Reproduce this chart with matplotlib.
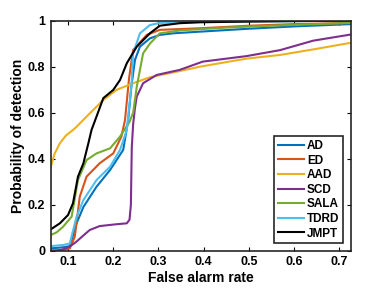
import matplotlib
matplotlib.use("Agg")
from matplotlib import pyplot as plt

# ROC curves (false alarm rate, probability of detection)
ad_x = [0.062, 0.09, 0.104, 0.119, 0.134, 0.163, 0.193, 0.222, 0.233, 0.24, 0.248, 0.259, 0.281, 0.303, 0.333, 0.39, 0.5, 0.6, 0.726]
ad_y = [0.01, 0.015, 0.02, 0.119, 0.19, 0.278, 0.351, 0.438, 0.568, 0.713, 0.829, 0.887, 0.923, 0.938, 0.945, 0.952, 0.965, 0.975, 0.985]

ed_x = [0.062, 0.09, 0.104, 0.115, 0.126, 0.141, 0.17, 0.2, 0.218, 0.226, 0.235, 0.244, 0.274, 0.303, 0.392, 0.5, 0.6, 0.726]
ed_y = [0.0, 0.003, 0.01, 0.061, 0.235, 0.322, 0.38, 0.423, 0.496, 0.568, 0.75, 0.873, 0.938, 0.96, 0.967, 0.978, 0.985, 0.99]

aad_x = [0.062, 0.07, 0.082, 0.095, 0.111, 0.119, 0.148, 0.178, 0.207, 0.244, 0.281, 0.347, 0.392, 0.45, 0.495, 0.569, 0.642, 0.726]
aad_y = [0.365, 0.42, 0.467, 0.50, 0.525, 0.539, 0.597, 0.655, 0.699, 0.728, 0.754, 0.781, 0.80, 0.82, 0.835, 0.851, 0.875, 0.904]

scd_x = [0.062, 0.075, 0.089, 0.104, 0.119, 0.135, 0.148, 0.17, 0.207, 0.23, 0.236, 0.239, 0.241, 0.244, 0.248, 0.252, 0.266, 0.296, 0.347, 0.398, 0.495, 0.569, 0.642, 0.726]
scd_y = [0.0, 0.001, 0.006, 0.018, 0.04, 0.068, 0.09, 0.107, 0.115, 0.119, 0.135, 0.2, 0.45, 0.55, 0.62, 0.67, 0.728, 0.764, 0.786, 0.822, 0.846, 0.872, 0.913, 0.94]

sala_x = [0.062, 0.075, 0.089, 0.108, 0.122, 0.141, 0.163, 0.193, 0.215, 0.226, 0.236, 0.244, 0.252, 0.266, 0.281, 0.303, 0.35, 0.45, 0.6, 0.726]
sala_y = [0.068, 0.08, 0.104, 0.148, 0.307, 0.394, 0.423, 0.445, 0.496, 0.53, 0.56, 0.6, 0.713, 0.858, 0.90, 0.945, 0.958, 0.97, 0.982, 0.99]

tdrd_x = [0.062, 0.09, 0.104, 0.119, 0.134, 0.163, 0.193, 0.215, 0.23, 0.24, 0.244, 0.259, 0.281, 0.303, 0.35, 0.45, 0.6, 0.726]
tdrd_y = [0.02, 0.025, 0.032, 0.148, 0.22, 0.307, 0.365, 0.438, 0.525, 0.713, 0.858, 0.945, 0.981, 0.99, 0.993, 0.996, 0.998, 1.0]

jmpt_x = [0.062, 0.082, 0.1, 0.111, 0.122, 0.134, 0.145, 0.152, 0.163, 0.178, 0.2, 0.215, 0.23, 0.252, 0.281, 0.303, 0.347, 0.392, 0.5, 0.6, 0.726]
jmpt_y = [0.093, 0.119, 0.155, 0.206, 0.322, 0.38, 0.467, 0.525, 0.583, 0.663, 0.699, 0.742, 0.815, 0.887, 0.945, 0.978, 0.989, 0.993, 0.996, 0.998, 1.0]

names = ["AD", "ED", "AAD", "SCD", "SALA", "TDRD", "JMPT"]
colors = ["#0072BD", "#D95319", "#EDB120", "#7E2F8E", "#77AC30", "#4DBEEE", "#000000"]
curves = [(ad_x, ad_y), (ed_x, ed_y), (aad_x, aad_y), (scd_x, scd_y),
          (sala_x, sala_y), (tdrd_x, tdrd_y), (jmpt_x, jmpt_y)]

plt.rcParams['font.family'] = ['Liberation Sans', 'DejaVu Sans']
plt.rcParams['font.weight'] = 'bold'

fig = plt.figure(figsize=(3.88, 2.91), dpi=100)
ax = fig.add_axes([0.131, 0.1385, 0.774, 0.7905])

for (x, y), name, c in zip(curves, names, colors):
    ax.plot(x, y, color=c, lw=1.5, label=name)

ax.set_xlim(0.062, 0.726)
ax.set_ylim(0, 1)
ax.set_xticks([0.1, 0.2, 0.3, 0.4, 0.5, 0.6, 0.7])
ax.set_yticks([0, 0.2, 0.4, 0.6, 0.8, 1])
ax.set_yticklabels(["0", "0.2", "0.4", "0.6", "0.8", "1"])
ax.tick_params(direction='in', top=True, right=True, labelsize=9, length=3, width=0.8, pad=4)
for s in ax.spines.values():
    s.set_linewidth(1.2)
    s.set_color('#262626')
ax.set_xlabel("False alarm rate", fontsize=10, fontweight='bold', labelpad=2)
ax.set_ylabel("Probability of detection", fontsize=10, fontweight='bold', labelpad=2)

leg = ax.legend(loc='lower right', fontsize=8.5, handlelength=2.2, handletextpad=0.3,
                labelspacing=0.22, borderpad=0.3, borderaxespad=0, fancybox=False, framealpha=1,
                edgecolor='#262626', bbox_to_anchor=(0.973, 0.033))
leg.get_frame().set_linewidth(1.2)

fig.savefig("out.png", dpi=100)
